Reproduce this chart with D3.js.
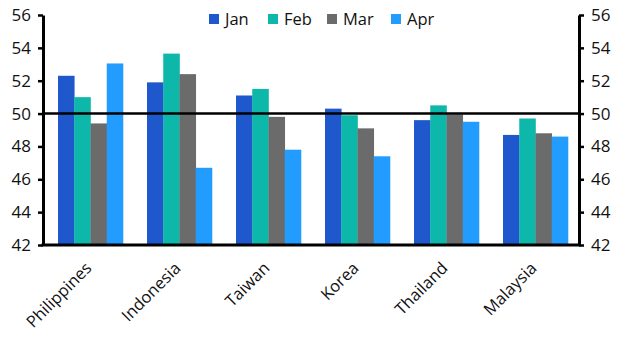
<!DOCTYPE html>
<html><head><meta charset="utf-8">
<script src="https://cdn.jsdelivr.net/npm/d3@7"></script>
<style>body{margin:0;background:#fff}svg{display:block}text{font-family:"Open Sans",sans-serif;fill:#111}</style>
</head><body>
<svg id="c" width="635" height="361"></svg>
<script>
const categories = ["Philippines","Indonesia","Taiwan","Korea","Thailand","Malaysia"];
const seriesNames = ["Jan","Feb","Mar","Apr"];
const jan = [52.3,51.9,51.1,50.3,49.6,48.7];
const feb = [51.0,53.65,51.5,49.9,50.5,49.7];
const mar = [49.4,52.4,49.8,49.1,49.95,48.8];
const apr = [53.05,46.7,47.8,47.4,49.5,48.6];
const yTicks = [42,44,46,48,50,52,54,56];
const colors = ["#1f57cc","#0db8aa","#6b6b6b","#229dff"];
const seriesValues = [jan,feb,mar,apr];

const svg = d3.select("#c");
const L = 43, R = 579, T = 15, B = 245;
const y = d3.scaleLinear().domain([42,56]).range([B,T]);
const x = d3.scaleBand().domain(categories).range([46,580]).paddingInner(0.27).paddingOuter(0.135);
const xs = d3.scaleBand().domain(seriesNames).range([0,x.bandwidth()]);

const g = svg.append("g");
seriesNames.forEach((s,si)=>{
  g.selectAll(null).data(categories).enter().append("rect")
    .attr("x",(c)=>x(c)+xs(s))
    .attr("width",xs.bandwidth()+0.3)
    .attr("y",(c,i)=>y(seriesValues[si][i]))
    .attr("height",(c,i)=>B-y(seriesValues[si][i]))
    .attr("fill",colors[si]);
});

// 50 line
svg.append("line").attr("x1",L).attr("x2",R).attr("y1",y(50)).attr("y2",y(50))
  .attr("stroke","#000").attr("stroke-width",2.5);

const la = svg.append("g").attr("transform",`translate(${L},0)`)
  .call(d3.axisLeft(y).tickValues(yTicks).tickSize(5).tickSizeOuter(0).tickPadding(7));
const ra = svg.append("g").attr("transform",`translate(${R},0)`)
  .call(d3.axisRight(y).tickValues(yTicks).tickSize(5).tickSizeOuter(0).tickPadding(7));
[la,ra].forEach(a=>{
  a.select(".domain").attr("stroke","#000").attr("stroke-width",3);
  a.selectAll(".tick line").attr("stroke","#000").attr("stroke-width",2.5);
  a.selectAll("text").style("font-size","17px").attr("fill","#111");
});
svg.append("line").attr("x1",L-1.5).attr("x2",R+1.5).attr("y1",B).attr("y2",B)
  .attr("stroke","#000").attr("stroke-width",3);

// x labels
svg.selectAll(null).data(categories).enter().append("text")
  .attr("transform",c=>`translate(${x(c)+x.bandwidth()/2-6},${B+16}) rotate(-45)`)
  .attr("text-anchor","end").attr("dy","0.7em")
  .style("font-size","16.5px").text(d=>d);

// legend
const legX = [209,268,327,391];
seriesNames.forEach((s,i)=>{
  svg.append("rect").attr("x",legX[i]).attr("y",14).attr("width",10).attr("height",10).attr("fill",colors[i]);
  svg.append("text").attr("x",legX[i]+16).attr("y",19).attr("dy","0.35em").style("font-size","16.5px").text(s);
});
</script>
</body></html>
